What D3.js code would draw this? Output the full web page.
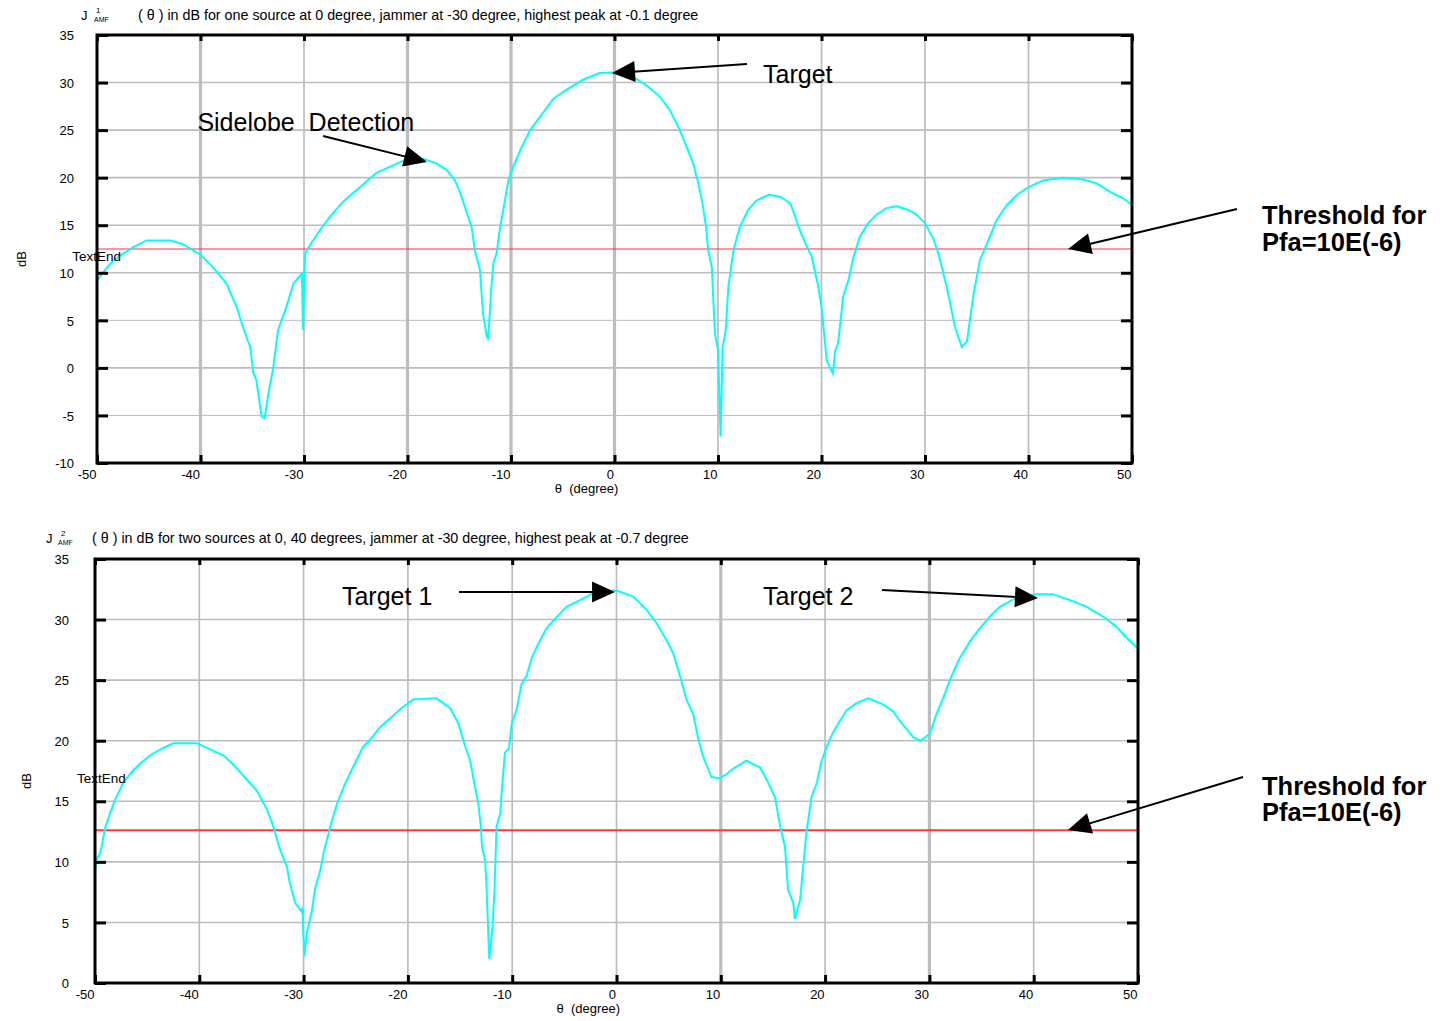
<!DOCTYPE html>
<html>
<head>
<meta charset="utf-8">
<script src="https://cdn.jsdelivr.net/npm/d3@7"></script>
<style>
  html, body { margin: 0; padding: 0; background: #ffffff; }
  svg { display: block; font-family: "Liberation Sans", Arial, Helvetica, sans-serif; }
</style>
</head>
<body>
<svg id="chart" width="1447" height="1021"></svg>
<script>
// ---------------- DATA ----------------
const thetaTicks = [-50, -40, -30, -20, -10, 0, 10, 20, 30, 40, 50];
const dbTicksTop = [-10, -5, 0, 5, 10, 15, 20, 25, 30, 35];
const dbTicksBottom = [0, 5, 10, 15, 20, 25, 30, 35];
const thresholdTop = 12.5;
const thresholdBottom = 12.6;

// J^1_AMF(theta) in dB, one source at 0 deg, jammer at -30 deg  [theta (deg), dB]
const responseOneSource = [
  [-50,9.2],[-49,10.6],[-48.4,11.3],[-47.5,12.0],[-46.5,12.7],[-45.2,13.4],[-42.9,13.4],[-41.7,13.0],
  [-40,11.9],[-38.8,10.6],[-37.5,8.9],[-36.5,6.4],[-35.9,4.3],[-35.2,2.2],[-34.9,-0.5],[-34.6,-1.3],
  [-34.1,-5.1],[-33.8,-5.3],[-33.45,-2.7],[-33,-0.2],[-32.5,4.0],[-31.8,6.1],[-31,8.9],[-30.2,9.9],
  [-30.1,4.0],[-29.9,12.0],[-29.3,13.1],[-28.45,14.5],[-27.5,15.9],[-26.2,17.5],[-24.6,19.0],[-23,20.5],
  [-21.4,21.3],[-20.1,21.9],[-18.5,22.0],[-17.2,21.5],[-16.2,20.8],[-15.4,19.7],[-14.9,18.4],[-14.3,16.4],
  [-13.8,14.8],[-13.5,12.4],[-13,10.3],[-12.7,5.7],[-12.35,3.3],[-12.2,3.1],[-11.9,8.5],[-11.7,11.0],
  [-11.4,12.0],[-11.05,14.8],[-10.75,16.6],[-10.25,19.7],[-9.8,21.1],[-9.1,22.9],[-8.15,25.0],[-7.2,26.4],
  [-5.9,28.3],[-4.7,29.2],[-3.05,30.3],[-1.45,31.0],[-0.1,31.05],[1.8,30.6],[3.1,29.7],[4.4,28.5],
  [5.35,27.1],[6.3,25.0],[6.95,23.3],[7.6,21.5],[8.1,19.4],[8.5,17.3],[8.85,14.8],[9.05,12.4],
  [9.4,10.6],[9.7,3.6],[10.0,1.9],[10.25,-7.2],[10.45,2.2],[10.75,4.0],[11.0,8.5],[11.5,12.4],
  [12.1,14.8],[12.9,16.6],[13.7,17.6],[14.9,18.2],[16,18.0],[17,17.3],[17.9,14.5],[18.6,12.7],
  [19.05,11.7],[19.7,8.5],[20.0,6.4],[20.5,0.8],[21.1,-0.6],[21.3,1.7],[21.6,2.6],[22.1,7.5],
  [22.6,9.2],[23.1,11.7],[23.7,13.8],[24.5,15.2],[25.3,16.1],[26.3,16.8],[27.3,17.0],[28.4,16.6],
  [29.2,16.1],[30,15.2],[30.8,13.6],[31.3,12.0],[32.1,8.5],[32.9,4.3],[33.55,2.2],[34.05,2.8],
  [34.7,7.8],[35.3,11.3],[36,13.1],[36.9,15.5],[37.9,17.1],[38.9,18.2],[40,19.0],[41.4,19.7],
  [43.4,20.0],[45.3,19.8],[46.6,19.4],[47.9,18.5],[49.2,17.8],[50,17.1]
];

// J^2_AMF(theta) in dB, two sources at 0 and 40 deg, jammer at -30 deg  [theta (deg), dB]
const responseTwoSources = [
  [-50,9.3],[-49.85,10.2],[-49.5,10.7],[-49,12.9],[-48.55,14.0],[-48.1,15.1],[-47.3,16.5],[-46.5,17.4],
  [-45.7,18.1],[-44.7,18.8],[-43.45,19.4],[-42.5,19.8],[-40.25,19.8],[-39,19.3],[-37.7,18.8],[-36.7,18.0],
  [-35.45,16.8],[-34.5,15.9],[-33.5,14.3],[-32.9,12.9],[-32.25,11.0],[-31.6,9.6],[-31.3,8.2],[-30.8,6.6],
  [-30.2,5.9],[-30.1,6.2],[-30.03,4.1],[-29.93,2.2],[-29.7,4.1],[-29.2,6.0],[-28.9,7.8],[-28.4,9.3],
  [-28.1,10.7],[-27.45,12.9],[-26.8,14.8],[-26,16.5],[-25.1,18.1],[-24.3,19.5],[-23.5,20.2],[-22.7,21.1],
  [-21.5,22.0],[-20.6,22.7],[-19.5,23.4],[-17.25,23.5],[-15.95,22.7],[-15.15,21.4],[-14.5,19.5],[-14.05,18.4],
  [-13.7,16.8],[-13.25,14.8],[-13.0,12.9],[-12.9,11.25],[-12.6,10.15],[-12.45,7.7],[-12.2,2.0],[-11.9,4.4],
  [-11.7,7.7],[-11.5,12.9],[-11.15,14.0],[-11.0,15.9],[-10.7,19.0],[-10.3,19.4],[-10.05,21.4],[-9.6,22.5],
  [-9.1,24.7],[-8.6,25.4],[-8.1,26.9],[-7.5,28.0],[-6.7,29.3],[-5.75,30.2],[-4.8,31.05],[-3.5,31.6],
  [-2.2,32.2],[-0.15,32.4],[0.35,32.3],[1.6,31.9],[2.9,30.8],[3.85,29.7],[4.8,28.3],[5.45,27.2],
  [6.1,25.3],[6.7,23.4],[7.35,22.2],[7.85,20.1],[8.3,18.7],[9.1,17.0],[9.9,16.9],[10.55,17.25],
  [11.2,17.7],[12.45,18.35],[13.75,17.8],[14.45,16.7],[15.2,15.3],[15.7,12.9],[16.15,11.25],[16.45,7.7],
  [16.95,6.6],[17.1,5.3],[17.6,6.85],[17.9,9.6],[18.2,12.35],[18.7,15.4],[19.2,16.5],[19.65,18.3],
  [20.3,19.8],[20.8,20.75],[21.4,21.6],[22.05,22.5],[23,23.1],[24.15,23.5],[25.55,23.0],[26.55,22.4],
  [27.2,21.6],[27.8,21.0],[28.45,20.3],[29.15,20.0],[30.05,20.6],[30.7,22.25],[31.35,23.6],[32.1,25.3],
  [32.9,26.8],[33.9,28.2],[34.85,29.3],[35.8,30.25],[36.75,31.05],[38,31.65],[40.25,32.1],[41.85,32.1],
  [43.5,31.6],[45.1,31.05],[46.65,30.25],[47.95,29.4],[48.9,28.5],[49.9,27.7]
];

const titleTop = "( \u03b8 ) in dB for one source at 0 degree, jammer at -30 degree, highest peak at -0.1 degree";
const titleBottom = "( \u03b8 ) in dB for two sources at 0, 40 degrees, jammer at -30 degree, highest peak at -0.7 degree";
const xAxisTitle = "\u03b8  (degree)";
const yAxisTitle = "dB";
const thresholdLabel = ["Threshold for", "Pfa=10E(-6)"];

// ---------------- DRAWING ----------------
const svg = d3.select("#chart");
svg.append("rect").attr("width", 1447).attr("height", 1021).attr("fill", "#fff");

const GRID = "#bdbdbd";
const CURVE = "#00ffff";
const fmt = d => String(d);   // plain hyphen minus, as in the reference

function arrow(g, x1, y1, x2, y2) {
  const len = 23, hw = 10.5;
  const dx = x2 - x1, dy = y2 - y1, L = Math.hypot(dx, dy);
  const ux = dx / L, uy = dy / L;
  const bx = x2 - ux * len, by = y2 - uy * len;
  g.append("line").attr("x1", x1).attr("y1", y1).attr("x2", bx + ux * 2).attr("y2", by + uy * 2)
    .attr("stroke", "#000").attr("stroke-width", 2);
  g.append("path")
    .attr("d", `M${x2},${y2}L${bx - uy * hw},${by + ux * hw}L${bx + uy * hw},${by - ux * hw}Z`)
    .attr("fill", "#000");
}

function panel(cfg) {
  const x = d3.scaleLinear().domain([-50, 50]).range([cfg.left, cfg.right]);
  const y = d3.scaleLinear().domain(cfg.yDomain).range([cfg.bottom, cfg.top]);
  const g = svg.append("g");

  // grid
  g.append("g").selectAll("line").data(thetaTicks).join("line")
    .attr("x1", d => x(d)).attr("x2", d => x(d))
    .attr("y1", cfg.top).attr("y2", cfg.bottom)
    .attr("stroke", GRID)
    .attr("stroke-width", d => cfg.heavyX.includes(d) ? 3.2 : 1.7);
  g.append("g").selectAll("line").data(cfg.yTicks).join("line")
    .attr("x1", cfg.left).attr("x2", cfg.right)
    .attr("y1", d => y(d)).attr("y2", d => y(d))
    .attr("stroke", GRID)
    .attr("stroke-width", d => cfg.lightY.includes(d) ? 1 : 1.6);

  // threshold
  g.append("line")
    .attr("x1", cfg.left).attr("x2", cfg.right)
    .attr("y1", y(cfg.threshold)).attr("y2", y(cfg.threshold))
    .attr("stroke", cfg.thrColor).attr("stroke-width", cfg.thrWidth);

  // curve
  const line = d3.line().x(d => x(d[0])).y(d => y(d[1]));
  g.append("path").datum(cfg.data).attr("d", line)
    .attr("fill", "none").attr("stroke", CURVE).attr("stroke-width", 2)
    .attr("stroke-linejoin", "miter");

  // axes
  const ax = (gen, tx, ty) => {
    const a = g.append("g").attr("transform", `translate(${tx},${ty})`).call(gen);
    a.select(".domain").remove();
    a.selectAll(".tick line").attr("stroke", "#000").attr("stroke-width", 3);
    a.selectAll("text").attr("font-family", "Liberation Sans, Arial, sans-serif")
      .attr("font-size", 13).attr("fill", "#000");
    return a;
  };
  const bx = ax(d3.axisBottom(x).tickValues(thetaTicks).tickFormat(fmt).tickSizeInner(-8).tickSizeOuter(0).tickPadding(7), 0, cfg.bottom);
  bx.selectAll("text").attr("text-anchor", "end").attr("dx", -1);
  ax(d3.axisTop(x).tickValues(thetaTicks).tickSizeInner(-6).tickSizeOuter(0).tickFormat(""), 0, cfg.top);
  const ly = ax(d3.axisLeft(y).tickValues(cfg.yTicks).tickFormat(fmt).tickSizeInner(-11).tickSizeOuter(0).tickPadding(cfg.yPad), cfg.left, 0);
  ly.selectAll("text").attr("dy", "0.36em");
  ax(d3.axisRight(y).tickValues(cfg.yTicks).tickSizeInner(-11).tickSizeOuter(0).tickFormat(""), cfg.right, 0);

  // frame
  g.append("rect").attr("x", cfg.left).attr("y", cfg.top)
    .attr("width", cfg.right - cfg.left).attr("height", cfg.bottom - cfg.top)
    .attr("fill", "none").attr("stroke", "#000").attr("stroke-width", 3);

  // axis titles
  g.append("text").attr("x", x(-2.7)).attr("y", cfg.bottom + 30)
    .attr("text-anchor", "middle").attr("font-size", 13).style("white-space", "pre")
    .text(xAxisTitle);
  g.append("text").attr("transform", `translate(${cfg.yTitleX},${(cfg.top + cfg.bottom) / 2 + 10}) rotate(-90)`)
    .attr("text-anchor", "middle").attr("font-size", 13).text(yAxisTitle);

  // plot title
  const t = cfg.title;
  g.append("text").attr("x", t.jx).attr("y", t.base).attr("font-size", 13).text("J");
  g.append("text").attr("x", t.supx).attr("y", t.base - 7).attr("font-size", 8).text(t.sup);
  g.append("text").attr("x", t.subx).attr("y", t.base + 2).attr("font-size", 7).text("AMF");
  g.append("text").attr("x", t.textx).attr("y", t.base).attr("font-size", 14.3).text(t.text);

  // TextEnd
  g.append("text").attr("x", x(cfg.textEnd[0])).attr("y", y(cfg.textEnd[1]))
    .attr("font-size", 13.5).text("TextEnd");

  // annotations
  cfg.notes.forEach(n => {
    g.append("text").attr("x", x(n.text[0])).attr("y", y(n.text[1]))
      .attr("font-size", 25).style("white-space", "pre").text(n.label);
    arrow(g, x(n.from[0]), y(n.from[1]), x(n.to[0]), y(n.to[1]));
  });
  const th = cfg.thr;
  const tt = g.append("text").attr("font-size", 25.5).attr("font-weight", "bold");
  thresholdLabel.forEach((s, i) => {
    tt.append("tspan").attr("x", x(th.text[0])).attr("y", y(th.text[1 + i])).text(s);
  });
  arrow(g, x(th.from[0]), y(th.from[1]), x(th.to[0]), y(th.to[1]));
}

panel({
  left: 97, right: 1132, top: 35, bottom: 463, yDomain: [-10, 35], yTicks: dbTicksTop,
  yPad: 23, yTitleX: 26, heavyX: [-40, -20, -10, 0], lightY: [5, -5],
  threshold: thresholdTop, thrColor: "#ff3030", thrWidth: 1.2, data: responseOneSource,
  title: { jx: 81, supx: 96, subx: 94, textx: 138, base: 19.5, sup: "1", text: titleTop },
  textEnd: [-52.4, 11.24],
  notes: [
    { label: "Sidelobe  Detection", text: [-40.3, 24.9], from: [-28.16, 24.38], to: [-18.12, 21.65] },
    { label: "Target", text: [14.35, 29.95], from: [12.8, 31.95], to: [-0.24, 31.0] }
  ],
  thr: { text: [62.56, 15.13, 12.29], from: [60.14, 16.71], to: [43.82, 12.5] }
});

panel({
  left: 95, right: 1138, top: 559, bottom: 983, yDomain: [0, 35], yTicks: dbTicksBottom,
  yPad: 26, yTitleX: 31, heavyX: [10, 30], lightY: [],
  threshold: thresholdBottom, thrColor: "#ff3b3b", thrWidth: 2, data: responseTwoSources,
  title: { jx: 46, supx: 61, subx: 58, textx: 92, base: 543, sup: "2", text: titleBottom },
  textEnd: [-51.73, 16.51],
  notes: [
    { label: "Target 1", text: [-26.32, 31.2], from: [-15.1, 32.28], to: [-0.14, 32.28] },
    { label: "Target 2", text: [14.05, 31.2], from: [25.46, 32.44], to: [40.41, 31.78] }
  ],
  thr: { text: [61.89, 15.52, 13.37], from: [60.07, 17.0], to: [43.29, 12.63] }
});
</script>
</body>
</html>
